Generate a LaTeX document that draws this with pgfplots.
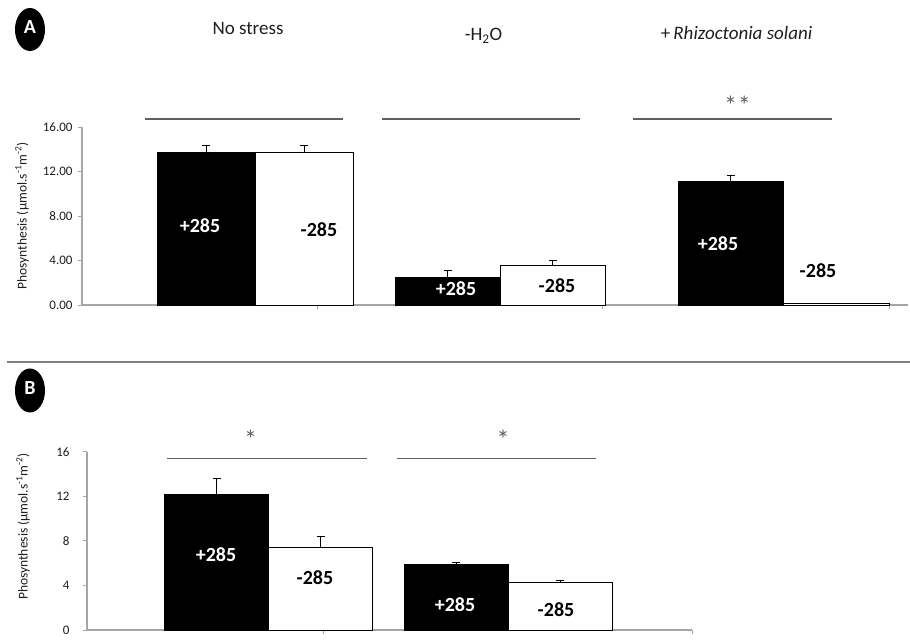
\documentclass[border=0pt]{standalone}
\usepackage{fontspec}
\setmainfont{Carlito}
\usepackage{pgfplots}
\pgfplotsset{compat=1.18}
\definecolor{axgray}{RGB}{165,165,165}
\definecolor{lngray}{RGB}{95,95,95}
\definecolor{txt}{RGB}{30,30,30}
\pgfplotsset{
  panel/.style={
    scale only axis, anchor=south west,
    axis x line=bottom, axis y line=left,
    axis line style={-, draw=axgray, line width=1.2pt},
    tick align=outside, major tick length=4pt,
    tick style={draw=axgray, line width=0.8pt},
    ymin=0, ymax=16, ytick={0,4,8,12,16},
    yticklabel style={font=\fontsize{13}{15}\selectfont, text=txt, xshift=-2pt},
    xticklabels={},
    /pgf/number format/assume math mode=true,
    clip=false,
  },
  errs/.style={
    error bars/y dir=plus, error bars/y explicit,
    error bars/error bar style={black, line width=0.9pt},
    error bars/error mark options={rotate=90, black, mark size=4pt, line width=0.9pt}},
  blackbar/.style={ybar, bar shift=0pt, fill=black, draw=black, line width=0.6pt, errs},
  whitebar/.style={ybar, bar shift=0pt, fill=white, draw=black, line width=0.8pt, errs},
}
\begin{document}
\begin{tikzpicture}[x=1pt,y=1pt]
\useasboundingbox (0,0) rectangle (910,644);

% ---------------- Panel A ----------------
\begin{axis}[panel, at={(82pt,339pt)}, width=826pt, height=178pt,
  xmin=82, xmax=908, xtick={317,602,889},
  yticklabel={\pgfmathprintnumber[fixed, fixed zerofill, precision=2]{\tick}}]
\addplot[blackbar, bar width=98] coordinates {(206,13.76) +- (0,0.54)};
\addplot[whitebar, bar width=98] coordinates {(304,13.76) +- (0,0.60)};
\addplot[blackbar, bar width=105] coordinates {(447.5,2.45) +- (0,0.69) (730.5,11.13) +- (0,0.51)};
\addplot[whitebar, bar width=105] coordinates {(552.5,3.59) +- (0,0.45)};
\addplot[ybar, bar shift=0pt, bar width=106, fill=white, draw=black, line width=0.8pt] coordinates {(836,0.1)};
\end{axis}

% ---------------- Panel B ----------------
\begin{axis}[panel, at={(87pt,14pt)}, width=605pt, height=178.3pt,
  xmin=87, xmax=692, xtick={323,692},
  yticklabel style={xshift=-8pt}]
\addplot[blackbar, bar width=104] coordinates {(216.5,12.2) +- (0,1.4) (456,5.9) +- (0,0.18)};
\addplot[whitebar, bar width=104] coordinates {(320.5,7.42) +- (0,1.01) (560,4.25) +- (0,0.24)};
\end{axis}

% panel markers
\fill[black] (30,614.5) ellipse (15 and 21.5);
\node[text=white, font=\fontsize{20}{22}\selectfont\bfseries] at (30,616.5) {A};
\fill[black] (30,253.5) ellipse (15 and 22);
\node[text=white, font=\fontsize{20}{22}\selectfont\bfseries] at (30,255.5) {B};

% separator
\draw[draw=lngray!80, line width=1.3pt] (7,282) -- (910,282);

% titles
\node[anchor=base, text=txt, font=\fontsize{19}{22}\selectfont] at (248,609.7) {No stress};
\node[anchor=base, text=txt, font=\fontsize{19}{22}\selectfont] at (483.5,603.3) {-H\textsubscript{2}O};
\node[anchor=base, text=txt, font=\fontsize{19}{22}\selectfont] at (736.5,604) {+\,\textit{Rhizoctonia solani}};

% significance lines panel A
\draw[draw=lngray, line width=1.3pt] (145,525) -- (343,525);
\draw[draw=lngray, line width=1.3pt] (382,525) -- (580,525);
\draw[draw=lngray, line width=1.3pt] (633,525) -- (832,525);
\node[text=lngray, font=\fontsize{26}{28}\selectfont] at (737.5,538.5) {*\hspace{1pt}*};

% significance lines panel B
\draw[draw=lngray, line width=1.3pt] (167,185.7) -- (367,185.7);
\draw[draw=lngray, line width=1.3pt] (397,185.7) -- (596,185.7);
\node[text=lngray, font=\fontsize{26}{28}\selectfont] at (250.5,205) {*};
\node[text=lngray, font=\fontsize{26}{28}\selectfont] at (503,205) {*};

% y labels
\node[rotate=90, text=txt, font=\fontsize{13.5}{15}\selectfont] at (22,428) {Phosynthesis (µmol.s\textsuperscript{-1}m\textsuperscript{-2})};
\node[rotate=90, text=txt, font=\fontsize{13.5}{15}\selectfont] at (23,117.5) {Phosynthesis (µmol.s\textsuperscript{-1}m\textsuperscript{-2})};

% bar labels panel A
\tikzset{lbw/.style={text=white, font=\fontsize{20}{22}\selectfont\bfseries},
         lbk/.style={text=black, font=\fontsize{20}{22}\selectfont\bfseries}}
\node[lbw] at (200,418) {+285};
\node[lbk] at (319,414.7) {-285};
\node[lbw] at (456,355) {+285};
\node[lbk] at (557,358.3) {-285};
\node[lbw] at (718,400) {+285};
\node[lbk] at (818,373) {-285};
% bar labels panel B
\node[lbw] at (216,89) {+285};
\node[lbk] at (315,66.3) {-285};
\node[lbw] at (455,39) {+285};
\node[lbk] at (556,34) {-285};
\end{tikzpicture}
\end{document}
